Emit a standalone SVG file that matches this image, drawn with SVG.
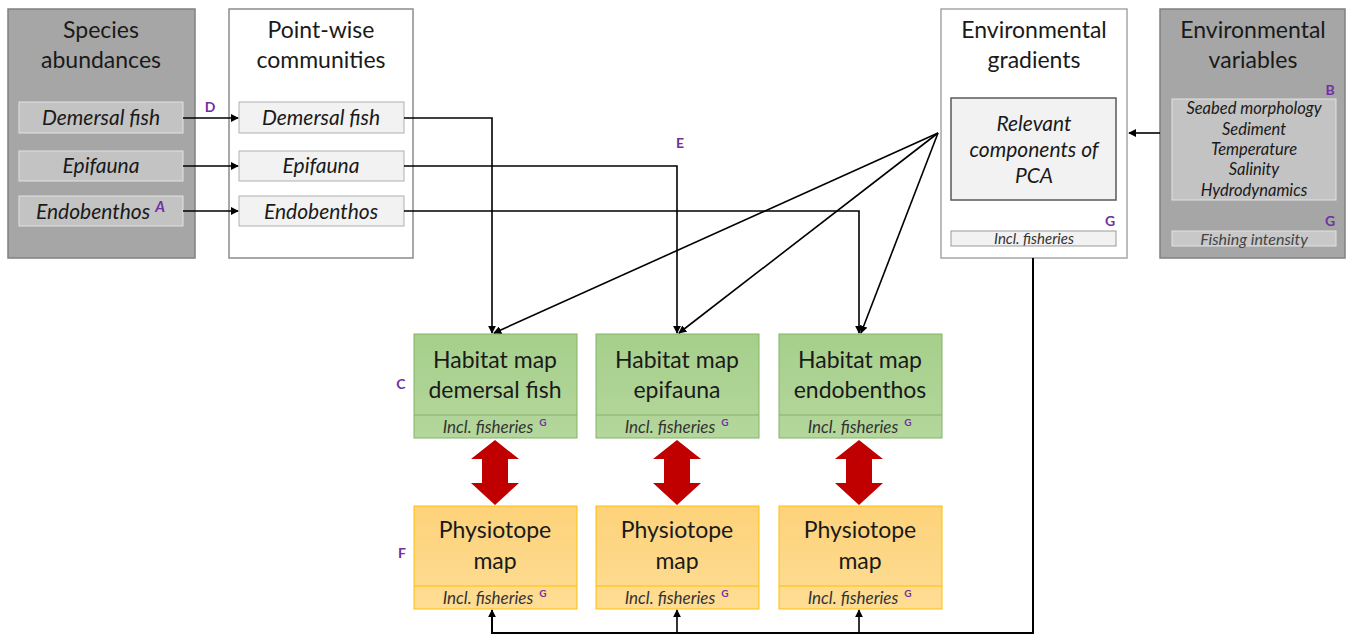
<svg xmlns="http://www.w3.org/2000/svg" width="1349" height="638" viewBox="0 0 1349 638">
<defs>
<marker id="ah" viewBox="0 0 10 10" refX="9" refY="5" markerWidth="8" markerHeight="8" markerUnits="userSpaceOnUse" orient="auto"><path d="M0,0 L10,5 L0,10 z" fill="#000"/></marker>
<linearGradient id="gg" x1="0" y1="0" x2="0" y2="1"><stop offset="0" stop-color="#a6cf8b"/><stop offset="1" stop-color="#b4d79c"/></linearGradient>
<linearGradient id="og" x1="0" y1="0" x2="0" y2="1"><stop offset="0" stop-color="#fdd27a"/><stop offset="1" stop-color="#fedd94"/></linearGradient>
</defs>
<style>
text{font-family:Lato,"Liberation Sans",sans-serif;fill:#1a1a1a;text-anchor:middle}
.t{font-size:23px}
.i{font-size:21px;font-style:italic}
.s{font-size:17px;font-style:italic;fill:#333}
.v{font-size:16.5px;font-style:italic}
.lab{font-size:14px;font-weight:bold;fill:#7030a0}
.sup{font-size:10px;font-weight:bold;fill:#7030a0}
.dk{fill:#a6a6a6;stroke:#808080;stroke-width:1.5}
.wh{fill:#fff;stroke:#8c8c8c;stroke-width:1.5}
.di{fill:#c3c3c3;stroke:#e2e2e2;stroke-width:1}
.li{fill:#f2f2f2;stroke:#8c8c8c;stroke-width:1}
.gr{fill:url(#gg);stroke:#82b366;stroke-width:1}
.or{fill:url(#og);stroke:#ffc000;stroke-width:1}
.c{fill:none;stroke:#000;stroke-width:1.6}
.rd{fill:#c00000}
</style>

<g id="species">
<rect class="dk" x="8" y="9" width="187" height="249"/>
<text class="t" x="101" y="38">Species</text>
<text class="t" x="101" y="68">abundances</text>
<rect class="di" x="19" y="102" width="164" height="31"/>
<text class="i" x="101" y="125">Demersal fish</text>
<rect class="di" x="19" y="151" width="164" height="30"/>
<text class="i" x="101" y="173">Epifauna</text>
<rect class="di" x="19" y="196" width="164" height="30"/>
<text class="i" x="93" y="219">Endobenthos</text>
<text class="lab" x="160" y="212" style="font-style:italic;font-size:15px">A</text>
</g>

<g id="pointwise">
<rect class="wh" x="229" y="9" width="184" height="249"/>
<text class="t" x="321" y="38">Point-wise</text>
<text class="t" x="321" y="68">communities</text>
<rect class="li" x="239" y="102" width="165" height="31" style="stroke:#b0b0b0"/>
<text class="i" x="321" y="125">Demersal fish</text>
<rect class="li" x="239" y="151" width="165" height="30" style="stroke:#b0b0b0"/>
<text class="i" x="321" y="173">Epifauna</text>
<rect class="li" x="239" y="196" width="165" height="30" style="stroke:#b0b0b0"/>
<text class="i" x="321" y="219">Endobenthos</text>
</g>

<g id="envgrad">
<rect class="wh" x="941" y="9" width="186" height="249" style="stroke:#a6a6a6"/>
<text class="t" x="1034" y="38">Environmental</text>
<text class="t" x="1034" y="68">gradients</text>
<rect class="li" x="951" y="98" width="165" height="102" style="stroke:#595959;stroke-width:1.5"/>
<text class="i" x="1034" y="131">Relevant</text>
<text class="i" x="1034" y="157">components of</text>
<text class="i" x="1034" y="183">PCA</text>
<text class="lab" x="1110" y="226">G</text>
<rect class="li" x="951" y="231" width="165" height="15" style="stroke:#999"/>
<text class="s" x="1034" y="244" style="font-size:15px">Incl. fisheries</text>
</g>

<g id="envvar">
<rect class="dk" x="1160" y="9" width="185" height="249"/>
<text class="t" x="1253" y="38">Environmental</text>
<text class="t" x="1253" y="68">variables</text>
<text class="lab" x="1330" y="95">B</text>
<rect class="di" x="1172" y="99" width="164" height="101"/>
<text class="v" x="1254" y="114">Seabed morphology</text>
<text class="v" x="1254" y="135">Sediment</text>
<text class="v" x="1254" y="155">Temperature</text>
<text class="v" x="1254" y="175">Salinity</text>
<text class="v" x="1254" y="196">Hydrodynamics</text>
<text class="lab" x="1330" y="226">G</text>
<rect class="di" x="1172" y="231" width="164" height="15" style="fill:#c8c8c8"/>
<text class="s" x="1254" y="245" style="font-size:16px;fill:#444">Fishing intensity</text>
</g>

<g id="habitat1">
<rect class="gr" x="414" y="334" width="163" height="104"/>
<line x1="414" y1="415" x2="577" y2="415" stroke="#82b366" stroke-width="1"/>
<text class="t" x="495" y="368">Habitat map</text>
<text class="t" x="495" y="398">demersal fish</text>
<text class="s" x="488" y="433">Incl. fisheries</text><text class="sup" x="543" y="426">G</text>
</g>
<g id="habitat2">
<rect class="gr" x="596" y="334" width="163" height="104"/>
<line x1="596" y1="415" x2="759" y2="415" stroke="#82b366" stroke-width="1"/>
<text class="t" x="677" y="368">Habitat map</text>
<text class="t" x="677" y="398">epifauna</text>
<text class="s" x="670" y="433">Incl. fisheries</text><text class="sup" x="725" y="426">G</text>
</g>
<g id="habitat3">
<rect class="gr" x="779" y="334" width="163" height="104"/>
<line x1="779" y1="415" x2="942" y2="415" stroke="#82b366" stroke-width="1"/>
<text class="t" x="860" y="368">Habitat map</text>
<text class="t" x="860" y="398">endobenthos</text>
<text class="s" x="853" y="433">Incl. fisheries</text><text class="sup" x="908" y="426">G</text>
</g>

<g id="physio1">
<rect class="or" x="414" y="506" width="163" height="103"/>
<line x1="414" y1="586" x2="577" y2="586" stroke="#ffc000" stroke-width="1"/>
<text class="t" x="495" y="538">Physiotope</text>
<text class="t" x="495" y="569">map</text>
<text class="s" x="488" y="604">Incl. fisheries</text><text class="sup" x="543" y="597">G</text>
</g>
<g id="physio2">
<rect class="or" x="596" y="506" width="163" height="103"/>
<line x1="596" y1="586" x2="759" y2="586" stroke="#ffc000" stroke-width="1"/>
<text class="t" x="677" y="538">Physiotope</text>
<text class="t" x="677" y="569">map</text>
<text class="s" x="670" y="604">Incl. fisheries</text><text class="sup" x="725" y="597">G</text>
</g>
<g id="physio3">
<rect class="or" x="779" y="506" width="163" height="103"/>
<line x1="779" y1="586" x2="942" y2="586" stroke="#ffc000" stroke-width="1"/>
<text class="t" x="860" y="538">Physiotope</text>
<text class="t" x="860" y="569">map</text>
<text class="s" x="853" y="604">Incl. fisheries</text><text class="sup" x="908" y="597">G</text>
</g>

<g id="labels">
<text class="lab" x="210" y="112">D</text>
<text class="lab" x="680" y="148">E</text>
<text class="lab" x="401" y="389">C</text>
<text class="lab" x="402" y="558">F</text>
</g>

<g id="connectors">
<line class="c" x1="183" y1="118" x2="238" y2="118" marker-end="url(#ah)"/>
<line class="c" x1="183" y1="166" x2="238" y2="166" marker-end="url(#ah)"/>
<line class="c" x1="183" y1="211" x2="238" y2="211" marker-end="url(#ah)"/>
<polyline class="c" points="404,118 492,118 492,333" marker-end="url(#ah)"/>
<polyline class="c" points="404,166 677,166 677,333" marker-end="url(#ah)"/>
<polyline class="c" points="404,211 859,211 859,333" marker-end="url(#ah)"/>
<line class="c" x1="938" y1="133" x2="494" y2="333" marker-end="url(#ah)"/>
<line class="c" x1="938" y1="133" x2="679" y2="333" marker-end="url(#ah)"/>
<line class="c" x1="938" y1="133" x2="861" y2="333" marker-end="url(#ah)"/>
<line class="c" x1="1160" y1="133" x2="1129" y2="133" marker-end="url(#ah)"/>
<polyline class="c" points="1033,258 1033,633 492,633 492,610" style="stroke-width:2" marker-end="url(#ah)"/>
<line class="c" x1="677" y1="633" x2="677" y2="610" marker-end="url(#ah)"/>
<line class="c" x1="859" y1="633" x2="859" y2="610" marker-end="url(#ah)"/>
<path class="rd" d="M495,440 L519,459 L508,459 L508,483 L519,483 L495,505 L471,483 L482,483 L482,459 L471,459 Z"/>
<path class="rd" d="M677,440 L701,459 L690,459 L690,483 L701,483 L677,505 L653,483 L664,483 L664,459 L653,459 Z"/>
<path class="rd" d="M859,440 L883,459 L872,459 L872,483 L883,483 L859,505 L835,483 L846,483 L846,459 L835,459 Z"/>
</g>
</svg>
